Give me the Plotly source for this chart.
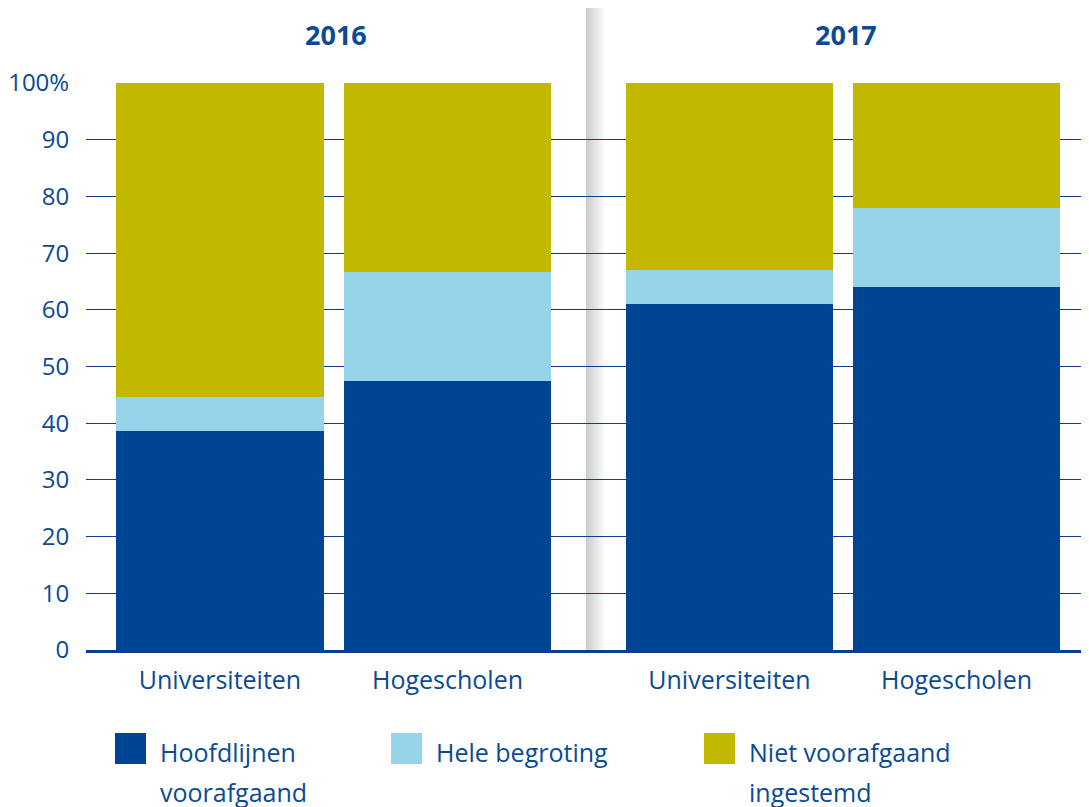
import plotly.graph_objects as go

# ---- data ----
years = ["2016", "2017"]
categories = ["Universiteiten", "Hogescholen"]
series_names = ["Hoofdlijnen<br>voorafgaand", "Hele begroting", "Niet voorafgaand<br>ingestemd"]
hoofdlijnen = {"2016": [38.6, 47.5], "2017": [61.0, 64.0]}
hele_begroting = {"2016": [6.0, 19.2], "2017": [6.0, 14.0]}
niet_voorafgaand = {"2016": [55.4, 33.3], "2017": [33.0, 22.0]}
tick_vals = [0, 10, 20, 30, 40, 50, 60, 70, 80, 90, 100]
tick_text = ["0", "10", "20", "30", "40", "50", "60", "70", "80", "90", "100%"]

colors = ["#004494", "#97d4e9", "#c3b800"]
text_color = "#0b4a94"
grid_color = "#0b3f8c"
FONT = "Open Sans"

W, H = 1089, 807
OFF = 8  # page body margin offset
px = lambda v: (v - OFF) / W
py = lambda v: 1 - (v - OFF) / H

fig = go.Figure()

# dummy full-width subplot carrying gridlines and baseline
fig.add_trace(go.Bar(x=[0], y=[0], xaxis="x", yaxis="y", showlegend=False,
                     hoverinfo="skip", marker_color="rgba(0,0,0,0)"))

series = [hoofdlijnen, hele_begroting, niet_voorafgaand]
for yi, yr in enumerate(years):
    xa = "x2" if yi == 0 else "x3"
    for si, s in enumerate(series):
        fig.add_trace(go.Bar(x=categories, y=s[yr], xaxis=xa, yaxis="y",
                             marker=dict(color=colors[si], line=dict(width=0)),
                             name=series_names[si].replace("<br>", " "), showlegend=False))

y_dom = [py(650), py(83)]
cat_axis = dict(anchor="y", showgrid=False, zeroline=False, showline=False,
                ticks="outside", ticklen=8, tickcolor="rgba(0,0,0,0)",
                tickfont=dict(size=25, color=text_color), automargin=False)
fig.update_layout(
    width=W, height=H,
    margin=dict(l=0, r=0, t=0, b=0, autoexpand=False),
    paper_bgcolor="white", plot_bgcolor="rgba(0,0,0,0)",
    barmode="stack", bargap=0.09,
    font=dict(family=FONT, color=text_color, size=24),
    xaxis=dict(domain=[px(86), 1.0], anchor="y", range=[0, 1], showgrid=False,
               showticklabels=False, zeroline=False, showline=True,
               linecolor=grid_color, linewidth=3, fixedrange=True, automargin=False),
    xaxis2=dict(domain=[px(106.25), px(561.25)], **cat_axis),
    xaxis3=dict(domain=[px(616), px(1070)], **cat_axis),
    yaxis=dict(domain=y_dom, range=[0, 100], tickvals=tick_vals, ticktext=tick_text,
               showgrid=True, gridcolor=grid_color, gridwidth=1, zeroline=False,
               ticks="outside", ticklen=11, tickcolor="rgba(0,0,0,0)",
               tickfont=dict(size=24, color=text_color), anchor="x", automargin=False),
)

# vertical divider with soft gradient
shapes = []
steps = 20
for i in range(steps):
    g = int(205 + (255 - 205) * i / (steps - 1))
    shapes.append(dict(type="rect", xref="paper", yref="paper",
                       x0=px(586 + i), x1=px(587 + i), y0=py(650), y1=min(1.0, py(7)),
                       fillcolor=f"rgb({g},{g},{g})", line=dict(width=0), layer="below"))

# custom legend
legend_x = [115, 391, 704]
for i, name in enumerate(series_names):
    shapes.append(dict(type="rect", xref="paper", yref="paper",
                       x0=px(legend_x[i]), x1=px(legend_x[i] + 31),
                       y0=py(764), y1=py(733), fillcolor=colors[i], line=dict(width=0)))
fig.update_layout(shapes=shapes)

annotations = []
for i, name in enumerate(series_names):
    for li, line in enumerate(name.split("<br>")):
        annotations.append(dict(xref="paper", yref="paper", x=px(legend_x[i] + 43),
                                y=py(752 + 40 * li), xanchor="left", yanchor="middle",
                                align="left", showarrow=False, text=line,
                                font=dict(size=25, color=text_color, family=FONT)))
title_x = [336, 846]
for i, yr in enumerate(years):
    annotations.append(dict(xref="paper", yref="paper", x=px(title_x[i]), y=py(35),
                            xanchor="center", yanchor="middle", showarrow=False,
                            text=f"<b>{yr}</b>", font=dict(size=27, color=text_color, family=FONT)))
fig.update_layout(annotations=annotations)

fig.write_html("out.html")
